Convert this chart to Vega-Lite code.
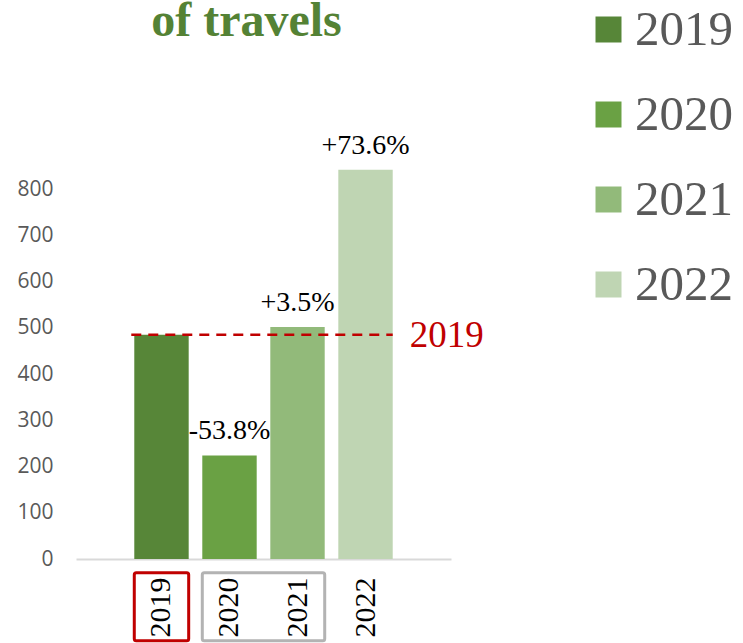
{
  "$schema": "https://vega.github.io/schema/vega-lite/v6.json",
  "autosize": {"type": "none"},
  "width": 375,
  "height": 416,
  "padding": {"left": 76, "top": 143, "right": 292, "bottom": 84},
  "background": "white",
  "config": {"view": {"stroke": null}},
  "title": {
    "text": "of travels",
    "font": "Liberation Serif",
    "fontSize": 48,
    "fontWeight": "bold",
    "color": "#548235",
    "anchor": "middle",
    "frame": "group",
    "baseline": "alphabetic",
    "dx": -17,
    "offset": -79
  },
  "datasets": {
    "bars": [
      {"year": "2019", "value": 485, "label": ""},
      {"year": "2020", "value": 224, "label": "-53.8%"},
      {"year": "2021", "value": 502, "label": "+3.5%"},
      {"year": "2022", "value": 842, "label": "+73.6%"}
    ],
    "ref": [{"start": "2019", "end": "2022", "value": 485, "text": "2019"}],
    "boxes": [
      {"start": "2019", "end": "2019", "top": -30, "bottom": -177, "kind": "red"},
      {"start": "2020", "end": "2021", "top": -30, "bottom": -177, "kind": "gray"}
    ]
  },
  "layer": [
    {
      "data": {"name": "bars"},
      "mark": {"type": "bar"},
      "encoding": {
        "x": {
          "field": "year", "type": "ordinal", "title": null,
          "scale": {"paddingInner": 0.2, "paddingOuter": 0.857},
          "axis": {
            "labelAngle": 270, "labelFont": "Liberation Serif", "labelFontSize": 30,
            "labelColor": "#000000", "labelPadding": 18, "ticks": false,
            "domainColor": "#d9d9d9", "domainWidth": 2
          }
        },
        "y": {
          "field": "value", "type": "quantitative", "title": null,
          "scale": {"domain": [0, 900], "nice": false},
          "axis": {
            "values": [0, 100, 200, 300, 400, 500, 600, 700, 800],
            "domain": false, "ticks": false, "grid": false,
            "labelFont": "Open Sans", "labelFontSize": 21, "labelColor": "#595959",
            "labelPadding": 23
          }
        },
        "color": {
          "field": "year", "type": "nominal",
          "scale": {"domain": ["2019", "2020", "2021", "2022"], "range": ["#578638", "#6aa144", "#92ba7a", "#bfd5b3"]},
          "legend": {
            "orient": "none", "legendX": 508, "legendY": -138, "title": null,
            "symbolType": "square", "symbolSize": 676, "symbolStrokeWidth": 0,
            "labelFont": "Liberation Serif", "labelFontSize": 49, "labelColor": "#595959",
            "labelOffset": 2, "rowPadding": 35
          }
        }
      }
    },
    {
      "data": {"name": "bars"},
      "mark": {"type": "text", "font": "Liberation Serif", "fontSize": 28, "color": "#000000", "baseline": "alphabetic", "dy": -16},
      "encoding": {
        "x": {"field": "year", "type": "ordinal"},
        "y": {"field": "value", "type": "quantitative"},
        "text": {"field": "label"}
      }
    },
    {
      "data": {"name": "ref"},
      "mark": {"type": "rule", "color": "#c00000", "strokeWidth": 2.5, "strokeDash": [10, 7], "xOffset": -3},
      "encoding": {
        "x": {"field": "start", "type": "ordinal", "bandPosition": 0},
        "x2": {"field": "end", "bandPosition": 1},
        "y": {"field": "value", "type": "quantitative"}
      }
    },
    {
      "data": {"name": "ref"},
      "mark": {"type": "text", "font": "Liberation Serif", "fontSize": 37, "color": "#c00000", "align": "left", "baseline": "alphabetic", "dx": 17, "dy": 12},
      "encoding": {
        "x": {"field": "end", "type": "ordinal", "bandPosition": 1},
        "y": {"field": "value", "type": "quantitative"},
        "text": {"field": "text"}
      }
    },
    {
      "data": {"name": "boxes"},
      "mark": {"type": "rect", "filled": false, "strokeWidth": 3, "cornerRadius": 2, "clip": false},
      "encoding": {
        "x": {"field": "start", "type": "ordinal", "bandPosition": 0},
        "x2": {"field": "end", "bandPosition": 1},
        "y": {"field": "top", "type": "quantitative"},
        "y2": {"field": "bottom"},
        "stroke": {
          "field": "kind", "type": "nominal",
          "scale": {"domain": ["red", "gray"], "range": ["#c00000", "#b3b3b3"]},
          "legend": null
        }
      }
    }
  ]
}
